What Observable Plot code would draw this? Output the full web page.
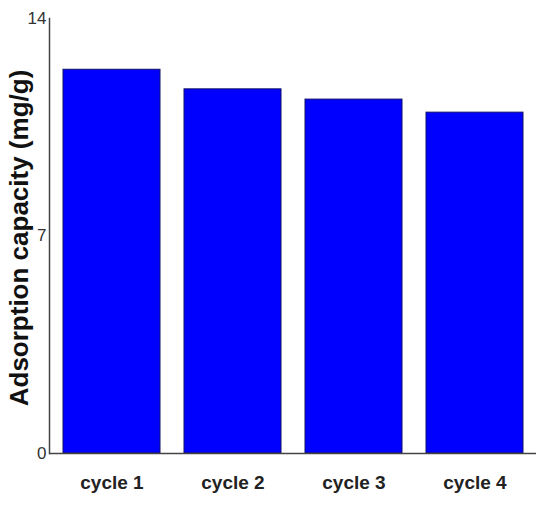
<!DOCTYPE html>
<html>
<head>
<meta charset="utf-8">
<script src="https://cdn.jsdelivr.net/npm/d3@7"></script>
<script src="https://cdn.jsdelivr.net/npm/@observablehq/plot@0.6"></script>
<style>
  html, body { margin: 0; padding: 0; background: #fff; }
  svg { font-family: "Liberation Sans", Arial, sans-serif; }
</style>
</head>
<body>
<div id="chart"></div>
<script>
const cycles = ["cycle 1", "cycle 2", "cycle 3", "cycle 4"];
const capacity = [12.35, 11.72, 11.39, 10.97];
const yTicks = [0, 7, 14];
const yLabel = "Adsorption capacity (mg/g)";

const data = cycles.map((c, i) => ({cycle: c, value: capacity[i]}));

const chart = Plot.plot({
  width: 550,
  height: 506,
  marginLeft: 49,
  marginRight: 14,
  marginTop: 18,
  marginBottom: 53,
  style: {fontFamily: '"Liberation Sans", Arial, sans-serif', background: "#fff"},
  x: {domain: cycles, paddingInner: 0.2, paddingOuter: 0.107, label: null},
  y: {domain: [0, 14], label: null},
  marks: [
    Plot.barY(data, {x: "cycle", y: "value", fill: "#0000ff", stroke: "#10106a", strokeWidth: 1}),
    Plot.axisY({ticks: yTicks, tickSize: 0, tickPadding: 3, fontSize: 17, color: "#333", label: null}),
    Plot.axisX({tickSize: 0, tickPadding: 22, fontSize: 19, fontWeight: "bold", color: "#222", label: null}),
    Plot.frame({anchor: "left", stroke: "#444", strokeWidth: 1.5}),
    Plot.ruleY([0], {stroke: "#444", strokeWidth: 1.5}),
    Plot.text([yLabel], {frameAnchor: "left", dx: -30, dy: 2, rotate: -90, fontSize: 26, fontWeight: "bold", fill: "#111", textAnchor: "middle", lineAnchor: "middle"})
  ]
});
document.getElementById("chart").appendChild(chart);
</script>
</body>
</html>
